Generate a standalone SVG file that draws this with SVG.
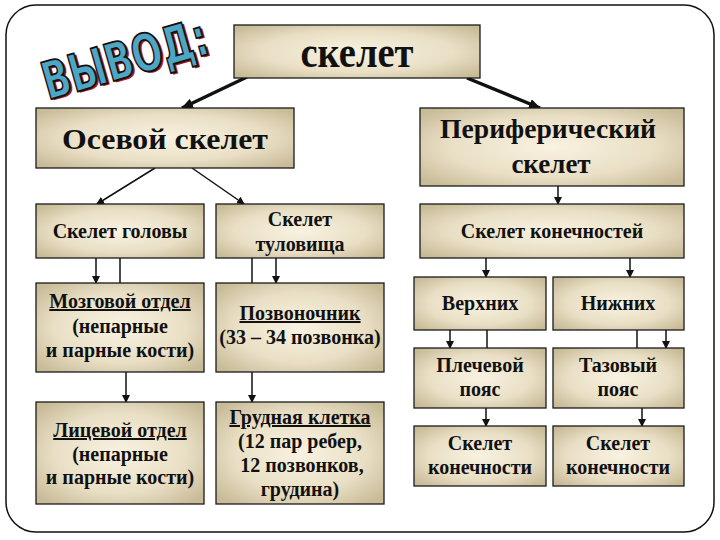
<svg xmlns="http://www.w3.org/2000/svg" width="720" height="540" viewBox="0 0 720 540">
<defs>
<radialGradient id="bg" cx="50%" cy="50%" r="65%">
<stop offset="0" stop-color="#f8f2e1"/>
<stop offset="0.6" stop-color="#e9dfc5"/>
<stop offset="1" stop-color="#c8bb98"/>
</radialGradient>
<marker id="ah" markerWidth="8" markerHeight="8" refX="7" refY="4" orient="auto" markerUnits="userSpaceOnUse">
<path d="M0,0 L8,4 L0,8 Z" fill="#111"/>
</marker>
<marker id="ahb" markerWidth="12" markerHeight="10" refX="11" refY="5" orient="auto" markerUnits="userSpaceOnUse">
<path d="M0,0 L12,5 L0,10 Z" fill="#111"/>
</marker>
</defs>
<style>
.box{fill:url(#bg);stroke:#1a1a1a;stroke-width:1.3}
.c{stroke:#111;stroke-width:1.5;fill:none}
.a{stroke:#111;stroke-width:1.5;fill:none;marker-end:url(#ah)}
.ab{stroke:#111;stroke-width:3.5;fill:none;marker-end:url(#ahb)}
</style>
<rect width="720" height="540" fill="#fff"/>
<rect x="6" y="5" width="708" height="527" rx="30" ry="30" fill="none" stroke="#111" stroke-width="1.5"/>

<g id="title">
<text x="0" y="0" transform="translate(48,100) rotate(-16)" font-family="'DejaVu Sans'" font-weight="bold" font-stretch="condensed" font-size="52" fill="#b01818" textLength="170" lengthAdjust="spacingAndGlyphs" dx="2" dy="2">ВЫВОД:</text>
<text x="0" y="0" transform="translate(48,100) rotate(-16)" font-family="'DejaVu Sans'" font-weight="bold" font-stretch="condensed" font-size="52" fill="#4ea6c4" stroke="#111" stroke-width="1.8" textLength="170" lengthAdjust="spacingAndGlyphs">ВЫВОД:</text>
</g>

<g id="connectors">
<line class="ab" x1="247" y1="77" x2="182" y2="108"/>
<line class="ab" x1="467" y1="78" x2="540" y2="108"/>
<line class="a" x1="155" y1="168" x2="97" y2="204"/>
<line class="a" x1="192" y1="168" x2="244" y2="204"/>
<line class="a" x1="558" y1="186" x2="558" y2="204"/>
<line class="a" x1="96" y1="258" x2="96" y2="283"/>
<line class="c" x1="120" y1="258" x2="120" y2="283"/>
<line class="c" x1="252" y1="258" x2="252" y2="283"/>
<line class="a" x1="276" y1="258" x2="276" y2="283"/>
<line class="a" x1="126" y1="372" x2="126" y2="402"/>
<line class="a" x1="252" y1="372" x2="252" y2="402"/>
<line class="a" x1="486" y1="258" x2="486" y2="277"/>
<line class="a" x1="630" y1="258" x2="630" y2="277"/>
<line class="a" x1="450" y1="330" x2="450" y2="348"/>
<line class="c" x1="487" y1="330" x2="487" y2="348"/>
<line class="c" x1="637" y1="330" x2="637" y2="348"/>
<line class="a" x1="666" y1="330" x2="666" y2="348"/>
<line class="a" x1="486" y1="408" x2="486" y2="426"/>
<line class="a" x1="642" y1="408" x2="642" y2="426"/>
</g>

<g id="skelet">
<rect class="box" x="234" y="25" width="246" height="53"/>
<text x="357" y="67" font-family="'Liberation Serif'" font-weight="bold" font-size="44" text-anchor="middle" fill="#111" textLength="113" lengthAdjust="spacingAndGlyphs">скелет</text>
</g>
<g id="osevoy">
<rect class="box" x="36" y="108" width="258" height="60"/>
<text x="165" y="149" font-family="'Liberation Serif'" font-weight="bold" font-size="30" text-anchor="middle" fill="#111" textLength="206" lengthAdjust="spacingAndGlyphs">Осевой скелет</text>
</g>
<g id="perif">
<rect class="box" x="420" y="108" width="264" height="78"/>
<text x="548" y="138" font-family="'Liberation Serif'" font-weight="bold" font-size="27" text-anchor="middle" fill="#111" textLength="216" lengthAdjust="spacingAndGlyphs">Периферический</text>
<text x="551" y="173" font-family="'Liberation Serif'" font-weight="bold" font-size="27" text-anchor="middle" fill="#111">скелет</text>
</g>
<g id="golova">
<rect class="box" x="36" y="204" width="168" height="54"/>
<text x="120" y="238" font-family="'Liberation Serif'" font-weight="bold" font-size="20" text-anchor="middle" fill="#111">Скелет головы</text>
</g>
<g id="tulovische">
<rect class="box" x="216" y="204" width="168" height="54"/>
<text x="300" y="226" font-family="'Liberation Serif'" font-weight="bold" font-size="20" text-anchor="middle" fill="#111">Скелет</text>
<text x="300" y="251" font-family="'Liberation Serif'" font-weight="bold" font-size="20" text-anchor="middle" fill="#111">туловища</text>
</g>
<g id="konechnostey">
<rect class="box" x="420" y="204" width="264" height="54"/>
<text x="552" y="238" font-family="'Liberation Serif'" font-weight="bold" font-size="20" text-anchor="middle" fill="#111">Скелет конечностей</text>
</g>
<g id="mozgovoy">
<rect class="box" x="36" y="283" width="168" height="89"/>
<text x="120" y="308" font-family="'Liberation Serif'" font-weight="bold" font-size="20" text-anchor="middle" fill="#111" text-decoration="underline">Мозговой отдел</text>
<text x="120" y="333" font-family="'Liberation Serif'" font-weight="bold" font-size="20" text-anchor="middle" fill="#111">(непарные</text>
<text x="120" y="357" font-family="'Liberation Serif'" font-weight="bold" font-size="20" text-anchor="middle" fill="#111">и парные кости)</text>
</g>
<g id="pozvonochnik">
<rect class="box" x="216" y="283" width="168" height="89"/>
<text x="300" y="320" font-family="'Liberation Serif'" font-weight="bold" font-size="20" text-anchor="middle" fill="#111" text-decoration="underline">Позвоночник</text>
<text x="300" y="344" font-family="'Liberation Serif'" font-weight="bold" font-size="20" text-anchor="middle" fill="#111">(33 – 34 позвонка)</text>
</g>
<g id="litsevoy">
<rect class="box" x="36" y="402" width="168" height="102"/>
<text x="120" y="437" font-family="'Liberation Serif'" font-weight="bold" font-size="20" text-anchor="middle" fill="#111" text-decoration="underline">Лицевой отдел</text>
<text x="120" y="461" font-family="'Liberation Serif'" font-weight="bold" font-size="20" text-anchor="middle" fill="#111">(непарные</text>
<text x="120" y="484" font-family="'Liberation Serif'" font-weight="bold" font-size="20" text-anchor="middle" fill="#111">и парные кости)</text>
</g>
<g id="grudnaya">
<rect class="box" x="216" y="402" width="168" height="102"/>
<text x="300" y="424" font-family="'Liberation Serif'" font-weight="bold" font-size="20" text-anchor="middle" fill="#111" text-decoration="underline">Грудная клетка</text>
<text x="300" y="448" font-family="'Liberation Serif'" font-weight="bold" font-size="20" text-anchor="middle" fill="#111">(12 пар ребер,</text>
<text x="302" y="472" font-family="'Liberation Serif'" font-weight="bold" font-size="20" text-anchor="middle" fill="#111">12 позвонков,</text>
<text x="300" y="496" font-family="'Liberation Serif'" font-weight="bold" font-size="20" text-anchor="middle" fill="#111">грудина)</text>
</g>
<g id="verkhnikh">
<rect class="box" x="414" y="277" width="132" height="53"/>
<text x="480" y="310" font-family="'Liberation Serif'" font-weight="bold" font-size="20" text-anchor="middle" fill="#111">Верхних</text>
</g>
<g id="nizhnikh">
<rect class="box" x="553" y="277" width="131" height="53"/>
<text x="618" y="310" font-family="'Liberation Serif'" font-weight="bold" font-size="20" text-anchor="middle" fill="#111">Нижних</text>
</g>
<g id="plechevoy">
<rect class="box" x="414" y="348" width="132" height="60"/>
<text x="480" y="372" font-family="'Liberation Serif'" font-weight="bold" font-size="20" text-anchor="middle" fill="#111">Плечевой</text>
<text x="480" y="396" font-family="'Liberation Serif'" font-weight="bold" font-size="20" text-anchor="middle" fill="#111">пояс</text>
</g>
<g id="tazovy">
<rect class="box" x="553" y="348" width="131" height="60"/>
<text x="618" y="372" font-family="'Liberation Serif'" font-weight="bold" font-size="20" text-anchor="middle" fill="#111">Тазовый</text>
<text x="618" y="396" font-family="'Liberation Serif'" font-weight="bold" font-size="20" text-anchor="middle" fill="#111">пояс</text>
</g>
<g id="konechnosti1">
<rect class="box" x="414" y="426" width="132" height="60"/>
<text x="480" y="450" font-family="'Liberation Serif'" font-weight="bold" font-size="20" text-anchor="middle" fill="#111">Скелет</text>
<text x="480" y="474" font-family="'Liberation Serif'" font-weight="bold" font-size="20" text-anchor="middle" fill="#111">конечности</text>
</g>
<g id="konechnosti2">
<rect class="box" x="553" y="426" width="131" height="60"/>
<text x="618" y="450" font-family="'Liberation Serif'" font-weight="bold" font-size="20" text-anchor="middle" fill="#111">Скелет</text>
<text x="618" y="474" font-family="'Liberation Serif'" font-weight="bold" font-size="20" text-anchor="middle" fill="#111">конечности</text>
</g>
</svg>
